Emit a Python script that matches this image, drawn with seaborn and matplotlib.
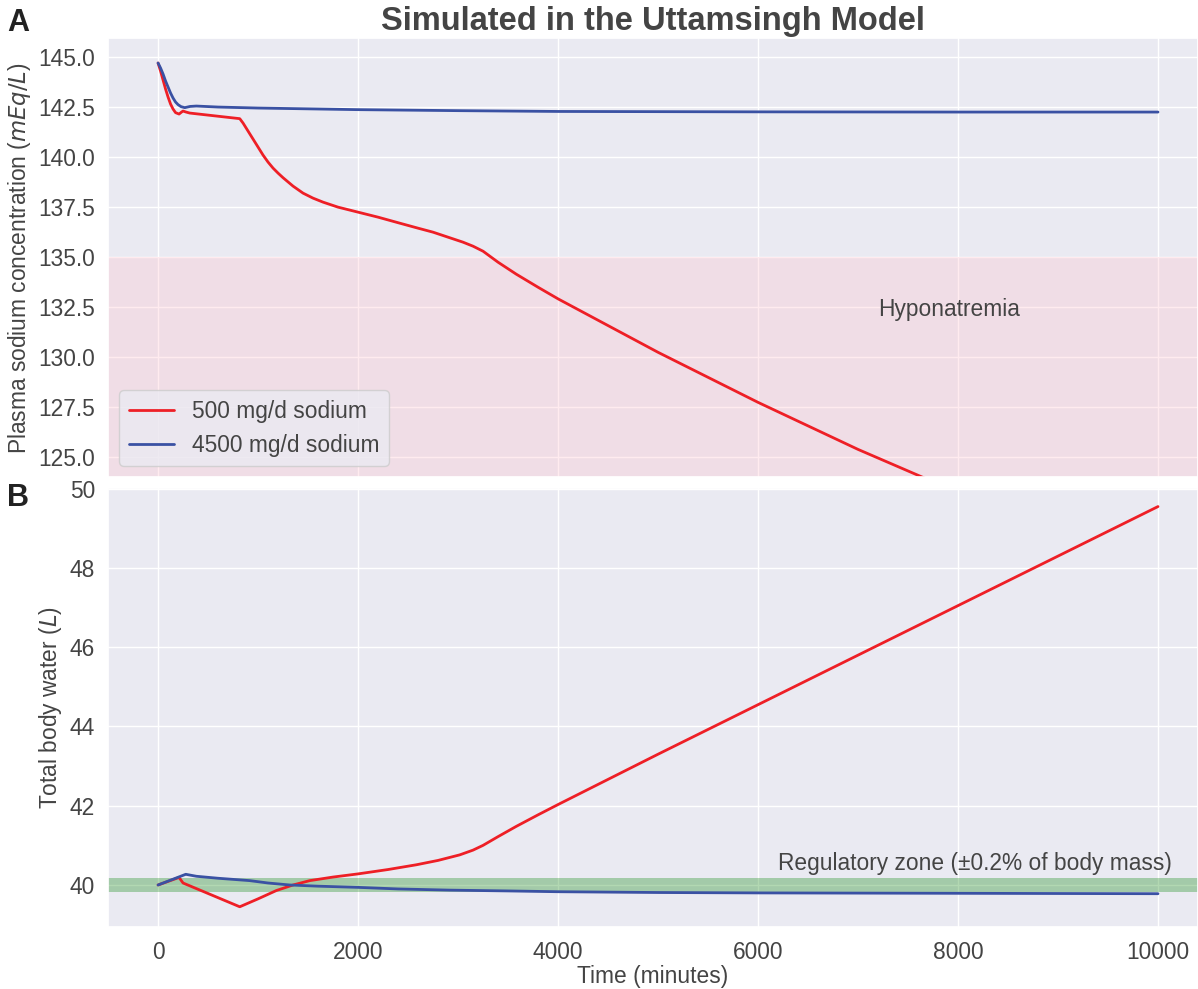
import numpy as np
import pandas as pd
import seaborn as sns
import matplotlib.pyplot as plt

# values
# panel A - plasma sodium (mEq/L)
t_na_low = [0, 25, 50, 75, 100, 125, 150, 175, 210, 235, 250, 280, 317, 817, 850, 900,
            950, 1000, 1050, 1100, 1150, 1200, 1250, 1350, 1450, 1550, 1650, 1800, 2000,
            2200, 2417, 2600, 2750, 2900, 3050, 3150, 3250, 3400, 3583, 3800, 4000, 5000,
            6000, 7000, 7650, 8000, 9000, 10000]
na_low = [144.7, 144.3, 143.85, 143.4, 143.0, 142.65, 142.4, 142.22, 142.15, 142.25,
          142.3, 142.25, 142.2, 141.92, 141.7, 141.3, 140.9, 140.5, 140.1, 139.75, 139.45,
          139.2, 138.97, 138.55, 138.2, 137.95, 137.75, 137.5, 137.25, 137.0, 136.7,
          136.45, 136.25, 136.0, 135.75, 135.55, 135.3, 134.75, 134.15, 133.5, 132.92,
          130.25, 127.75, 125.4, 124.0, 123.2, 121.0, 118.8]

t_na_high = [0, 25, 50, 75, 100, 125, 150, 175, 200, 230, 267, 320, 383, 600, 1000, 2000,
             3000, 4000, 6000, 8000, 10000]
na_high = [144.7, 144.45, 144.15, 143.8, 143.5, 143.2, 142.95, 142.75, 142.62, 142.52,
           142.47, 142.53, 142.55, 142.5, 142.45, 142.37, 142.32, 142.28, 142.26, 142.25,
           142.25]

# panel B - total body water (L)
t_tbw_low = [0, 210, 250, 817, 1000, 1183, 1350, 1517, 1750, 2000, 2300, 2583, 2800,
             3017, 3150, 3250, 3400, 3583, 3800, 4000, 5000, 6000, 7000, 8000, 9000, 10000]
tbw_low = [40.0, 40.19, 40.05, 39.45, 39.65, 39.86, 40.0, 40.11, 40.2, 40.28, 40.39,
           40.51, 40.62, 40.76, 40.88, 41.0, 41.22, 41.48, 41.77, 42.03, 43.3, 44.55, 45.8,
           47.05, 48.3, 49.55]

t_tbw_high = [0, 277, 383, 600, 917, 1100, 1317, 1600, 2000, 2400, 2917, 3500, 4000, 5000,
              6000, 8000, 10000]
tbw_high = [40.0, 40.27, 40.22, 40.17, 40.11, 40.05, 40.0, 39.97, 39.94, 39.9, 39.87,
            39.85, 39.83, 39.81, 39.8, 39.79, 39.78]

labels = ["500 mg/d sodium", "4500 mg/d sodium"]
hypo_limit = 135.0
tbw_base = 40.0
tbw_zone = 0.165

red = "#ee1f26"
blue = "#3a51a3"

sns.set_theme(style="darkgrid")
plt.rcParams['font.family'] = ['Liberation Sans', 'DejaVu Sans']
plt.rcParams['font.size'] = 16.4
for key in ['text.color', 'axes.labelcolor', 'xtick.color', 'ytick.color']:
    plt.rcParams[key] = '#444444'

fig, (ax1, ax2) = plt.subplots(2, 1, sharex=True, figsize=(11.98, 9.89), dpi=100)
fig.subplots_adjust(left=0.0902, right=1.0, top=0.9616, bottom=0.0627, hspace=0.023)

# top panel
ax1.axhspan(120, hypo_limit, color='pink', alpha=0.3, lw=0)
sns.lineplot(x=t_na_low, y=na_low, color=red, lw=2, ax=ax1, label=labels[0])
sns.lineplot(x=t_na_high, y=na_high, color=blue, lw=2, ax=ax1, label=labels[1])
ax1.set_ylim(124.0, 145.95)
ax1.set_yticks([125.0, 127.5, 130.0, 132.5, 135.0, 137.5, 140.0, 142.5, 145.0])
ax1.yaxis.set_major_formatter(plt.FormatStrFormatter('%.1f'))
ax1.text(7200, 132.4, "Hyponatremia", ha='left', va='center', fontsize=16.4)
ax1.set_ylabel("Plasma sodium concentration ($mEq/L$)", fontsize=16.4)
ax1.set_title("Simulated in the Uttamsingh Model", fontsize=23.5, fontweight='bold')
ax1.legend(loc='lower left', fontsize=16.4)
ax1.tick_params(labelsize=16.4)

# bottom panel
ax2.axhspan(tbw_base - tbw_zone, tbw_base + tbw_zone, color='green', alpha=0.3, lw=0)
sns.lineplot(x=t_tbw_low, y=tbw_low, color=red, lw=2, ax=ax2)
sns.lineplot(x=t_tbw_high, y=tbw_high, color=blue, lw=2, ax=ax2)
ax2.set_xlim(-500, 10400)
ax2.set_ylim(38.94, 50.03)
ax2.set_yticks([40, 42, 44, 46, 48, 50])
ax2.set_xticks([0, 2000, 4000, 6000, 8000, 10000])
ax2.text(6200, 40.55, "Regulatory zone (\u00b10.2% of body mass)", ha='left', va='center',
         fontsize=16.4)
ax2.set_ylabel("Total body water ($L$)", fontsize=16.4)
ax2.set_xlabel("Time (minutes)", fontsize=16.4, labelpad=0.5)
ax2.tick_params(labelsize=16.4)
ax2.tick_params(axis='x', pad=4)

fig.text(0.006, 0.992, "A", fontsize=22, fontweight='bold', va='top', color='#222222')
fig.text(0.006, 0.512, "B", fontsize=22, fontweight='bold', va='top', color='#222222')

fig.savefig("out.png", dpi=100)
